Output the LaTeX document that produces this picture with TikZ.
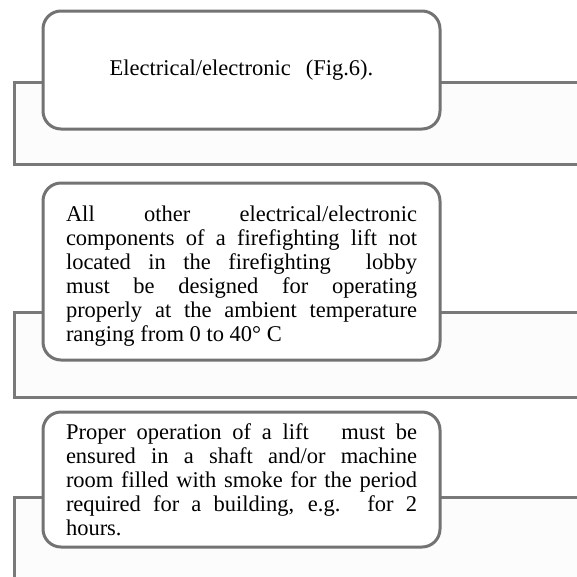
\documentclass[tikz,border=0pt]{standalone}
\usepackage{fontspec}
\setmainfont{Liberation Serif}
\begin{document}
\begin{tikzpicture}[x=1pt,y=-1pt]
            \tikzstyle{bloc}=[draw=gray!90!black,line width=3pt,rounded corners=18pt,fill=white,
              text width=351pt,inner xsep=23pt,inner ysep=0pt,align=justify,
              font=\fontsize{22.5}{24}\selectfont]
            \tikzstyle{panneau}=[draw=gray!95!black,line width=3pt,fill=black!1]
            \useasboundingbox (0,0) rectangle (577,576);
            \clip (0,0) rectangle (577,576);
            \draw[panneau] (14,82) rectangle (600,164);
            \draw[panneau] (14,312) rectangle (600,397);
            \draw[panneau] (14,497) rectangle (600,620);
            \node[bloc,minimum height=118pt,align=center] (e) at (241.5,70) {Electrical/electronic~ (Fig.6).};
            \node[bloc,minimum height=177pt] (a) at (241.5,271.5) {\rule{0pt}{24pt}All other electrical/electronic\linebreak
              components of a firefighting lift not\linebreak
              located in the firefighting~ lobby\linebreak
              must be designed for operating\linebreak
              properly at the ambient temperature\linebreak
              ranging from 0 to 40°~C};
            \node[bloc,minimum height=135pt] (p) at (241.5,479.5) {Proper operation of a lift~~ must be\linebreak
              ensured in a shaft and/or machine\linebreak
              room filled with smoke for the period\linebreak
              required for a building, e.g. for 2\linebreak
              hours.};
        \end{tikzpicture}
\end{document}
